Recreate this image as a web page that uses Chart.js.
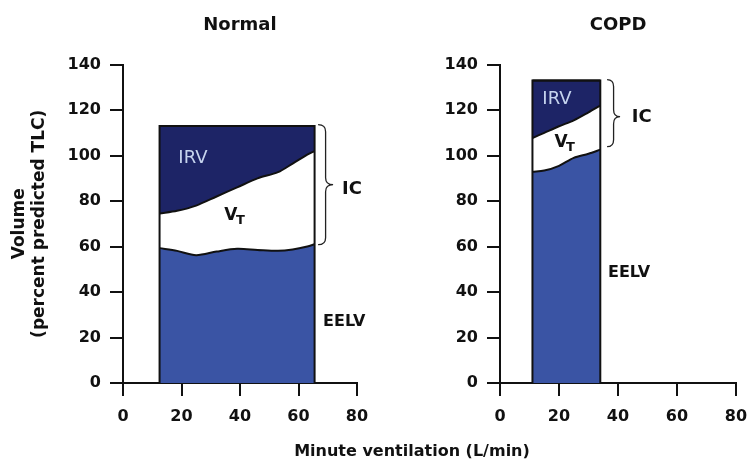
<!DOCTYPE html>
<html>
<head>
<meta charset="utf-8" />
<title>Lung volumes during exercise</title>
<script src="https://cdn.jsdelivr.net/npm/chart.js@4.4.0/dist/chart.umd.min.js"></script>
<style>
  body { margin: 0; background: #fff; }
  .wrap { position: relative; width: 748px; height: 462px; overflow: hidden; }
  #normalChart { position: absolute; left: 0; top: 0; }
  #copdChart { position: absolute; left: 380px; top: 0; }
  #xTitle {
    position: absolute; left: 412px; top: 441px; transform: translateX(-50%);
    font: bold 16px "DejaVu Sans", Verdana, sans-serif; line-height: 20px;
    white-space: nowrap; color: #111;
  }
</style>
</head>
<body>
<div class="wrap">
  <canvas id="normalChart" width="380" height="462"></canvas>
  <canvas id="copdChart" width="368" height="462"></canvas>
  <div id="xTitle">Minute ventilation (L/min)</div>
</div>
<script>
// axis ticks
const xTicks = [0, 20, 40, 60, 80];
const yTicks = [0, 20, 40, 60, 80, 100, 120, 140];

// Normal: minute ventilation (L/min) vs volume (% predicted TLC)
const normalVent = [12.5, 18.5, 25, 32, 39, 46, 53, 58, 63, 65.5];
const normalEELV = [59.3, 58.1, 56.2, 57.8, 59, 58.5, 58.1, 58.7, 60, 61];
const normalEILV = [74.5, 75.7, 78, 82, 86, 90, 92.7, 96.5, 100.4, 102];
const normalTLC = 113;

// COPD
const copdVent = [11, 15, 20, 25, 30, 34];
const copdEELV = [92.9, 93.4, 95.5, 99, 100.8, 102.6];
const copdEILV = [107.7, 110, 112.9, 115.5, 119, 122];
const copdTLC = 133;

const EELV_BLUE = '#3a54a4';
const IRV_NAVY = '#1d2466';
const INK = '#111';
const FONT = '"DejaVu Sans", Verdana, sans-serif';

function pts(xs, ys) {
    return xs.map((x, i) => ({ x: x, y: Array.isArray(ys) ? ys[i] : ys }));
}

// curly brace opening to the left, tip pointing right
function brace(ctx, x, top, mid, bottom, w) {
    const r = 7;
    const xm = x + w / 2;
    ctx.beginPath();
    ctx.moveTo(x, top);
    ctx.quadraticCurveTo(xm, top, xm, top + r);
    ctx.lineTo(xm, mid - r);
    ctx.quadraticCurveTo(xm, mid, x + w, mid);
    ctx.quadraticCurveTo(xm, mid, xm, mid + r);
    ctx.lineTo(xm, bottom - r);
    ctx.quadraticCurveTo(xm, bottom, x, bottom);
    ctx.stroke();
}

const panelText = {
    id: 'panelText',
    afterDatasetsDraw(chart, args, opts) {
        const ctx = chart.ctx;
        const px = v => chart.scales.x.getPixelForValue(v);
        const py = v => chart.scales.y.getPixelForValue(v);
        ctx.save();
        ctx.strokeStyle = '#222';
        ctx.lineWidth = 1.3;
        const b = opts.brace;
        brace(ctx, px(b.x), py(b.top), py(b.mid), py(b.bottom), b.w);

        ctx.textBaseline = 'middle';
        ctx.textAlign = 'center';
        ctx.fillStyle = '#c6d4ee';
        ctx.font = '18px ' + FONT;
        ctx.fillText('IRV', px(opts.irv.x), py(opts.irv.y));

        ctx.fillStyle = INK;
        ctx.font = 'bold 17px ' + FONT;
        const vx = px(opts.vt.x), vy = py(opts.vt.y);
        ctx.fillText('V', vx, vy);
        ctx.textAlign = 'left';
        ctx.font = 'bold 13px ' + FONT;
        ctx.fillText('T', vx + 5, vy + 5);

        ctx.font = 'bold 16px ' + FONT;
        ctx.fillText('EELV', px(opts.eelv.x), py(opts.eelv.y));
        ctx.font = 'bold 18px ' + FONT;
        ctx.fillText('IC', px(opts.ic.x), py(opts.ic.y));
        ctx.restore();
    }
};

function axisStyle() {
    return {
        grid: { drawOnChartArea: false, drawTicks: true, tickLength: 13, color: INK, lineWidth: 2 },
        border: { display: true, color: INK, width: 2 }
    };
}

function makePanel(id, title, vent, eelv, eilv, tlc, yWidth, padRight, showYTitle, marks) {
    const x0 = vent[0], x1 = vent[vent.length - 1];
    const xs = axisStyle(), ys = axisStyle();
    return new Chart(document.getElementById(id), {
        type: 'line',
        data: {
            datasets: [
                { label: 'EELV', data: pts(vent, eelv), fill: 'origin', backgroundColor: EELV_BLUE,
                  borderColor: INK, borderWidth: 2, tension: 0.3, order: 2 },
                { label: 'VT', data: pts(vent, eilv), fill: false,
                  borderColor: INK, borderWidth: 2, tension: 0.3, order: 1 },
                { label: 'IRV', data: pts(vent, tlc), fill: '-1', backgroundColor: IRV_NAVY,
                  borderColor: INK, borderWidth: 2, tension: 0, order: 3 },
                { label: 'edge', data: [{x: x0, y: 0}, {x: x0, y: tlc}, {x: x1, y: tlc}, {x: x1, y: 0}],
                  fill: false, borderColor: INK, borderWidth: 2, tension: 0, order: 0 }
            ]
        },
        options: {
            responsive: false,
            animation: false,
            layout: { padding: { left: 0, right: padRight, top: 0, bottom: 34 } },
            elements: { point: { radius: 0 } },
            plugins: {
                legend: { display: false },
                tooltip: { enabled: false },
                title: {
                    display: true, text: title, fullSize: false, color: INK,
                    font: { family: FONT, size: 18, weight: 'bold', lineHeight: 1.2 },
                    padding: { top: 15, bottom: 28 }
                },
                panelText: marks
            },
            scales: {
                x: {
                    type: 'linear', min: 0, max: 80,
                    afterBuildTicks: s => { s.ticks = xTicks.map(v => ({ value: v })); },
                    afterFit: s => { s.height = 45; s.paddingLeft = 0; s.paddingRight = 0; },
                    grid: xs.grid, border: xs.border,
                    ticks: { color: INK, padding: 11, font: { family: FONT, size: 16, weight: 'bold' } }
                },
                y: {
                    min: 0, max: 140,
                    afterBuildTicks: s => { s.ticks = yTicks.map(v => ({ value: v })); },
                    afterFit: s => { s.width = yWidth; },
                    grid: ys.grid, border: ys.border,
                    ticks: { color: INK, padding: 9, font: { family: FONT, size: 16, weight: 'bold' } },
                    title: {
                        display: showYTitle, text: ['Volume', '(percent predicted TLC)'], color: INK,
                        font: { family: FONT, size: 17, weight: 'bold', lineHeight: 1.15 },
                        padding: { top: 10, bottom: 0 }
                    }
                }
            }
        },
        plugins: [panelText]
    });
}

makePanel('normalChart', 'Normal', normalVent, normalEELV, normalEILV, normalTLC, 123, 23, true, {
    brace: { x: 66.7, top: 113.6, mid: 87.2, bottom: 60.8, w: 15 },
    irv: { x: 23.9, y: 99 },
    vt: { x: 36.9, y: 73.5 },
    eelv: { x: 68.4, y: 26.9 },
    ic: { x: 74.9, y: 85 }
});

makePanel('copdChart', 'COPD', copdVent, copdEELV, copdEILV, copdTLC, 120, 12, false, {
    brace: { x: 36.3, top: 133.4, mid: 117.1, bottom: 103.9, w: 13 },
    irv: { x: 19.3, y: 124.6 },
    vt: { x: 20.7, y: 105.5 },
    eelv: { x: 36.6, y: 48.4 },
    ic: { x: 44.7, y: 116.7 }
});
</script>
</body>
</html>
